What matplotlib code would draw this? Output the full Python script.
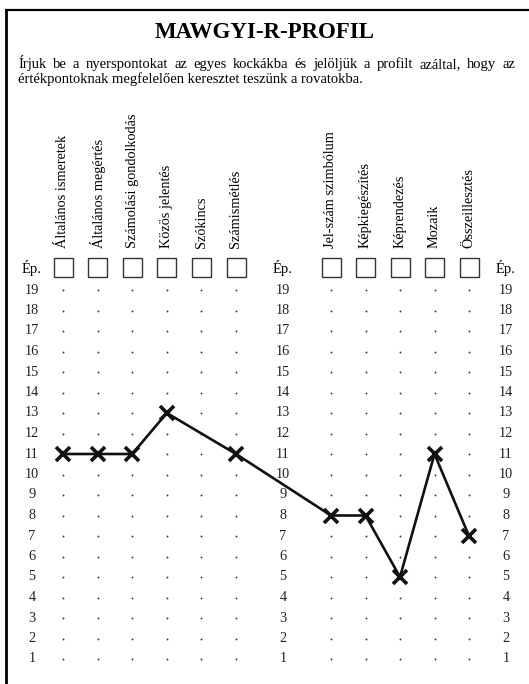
import numpy as np
import matplotlib
matplotlib.use('Agg')
import matplotlib.pyplot as plt
from matplotlib.patches import Rectangle

plt.rcParams['font.family'] = ['Liberation Serif', 'DejaVu Serif']

# Adatok
title = 'MAWGYI-R-PROFIL'
line1 = 'Írjuk be a nyerspontokat az egyes kockákba és jelöljük a profilt azáltal, hogy az'
line2 = 'értékpontoknak megfelelően keresztet teszünk a rovatokba.'
subtests_left = ['Általános ismeretek', 'Általános megértés', 'Számolási gondolkodás',
                 'Közös jelentés', 'Szókincs', 'Számismétlés']
subtests_right = ['Jel-szám szimbólum', 'Képkiegészítés', 'Képrendezés',
                  'Mozaik', 'Összeillesztés']
scores_left = [11, 11, 11, 13, np.nan, 11]
scores_right = [8, 8, 5, 11, 7]
levels = list(range(1, 20))
ep_label = 'Ép.'

# Elrendezés (pixel)
W, H = 529, 684
x_left = 63 + 34.6 * np.arange(len(subtests_left))
x_right = 331 + 34.5 * np.arange(len(subtests_right))
x_nums = [32, 283, 506]
row_top, row_step = 290, 20.5

fig = plt.figure(figsize=(W / 100, H / 100), dpi=100)

# pixel tengely a fejléchez
axp = fig.add_axes([0, 0, 1, 1])
axp.set_xlim(0, W)
axp.set_ylim(H, 0)
axp.axis('off')

# adat tengely: x pixel, y pontszám
ax = fig.add_axes([0, 0, 1, 1])
ax.set_xlim(0, W)
ax.set_ylim(19 - (H - row_top) / row_step, 19 + row_top / row_step)
ax.axis('off')
ax.patch.set_alpha(0)

# keret
axp.plot([5, W], [10, 10], color='black', lw=1.6, solid_capstyle='butt')
axp.plot([6, 6], [10, H], color='black', lw=2.0, solid_capstyle='butt')

# cím
axp.text(W / 2, 33, title, ha='center', va='center', fontsize=16.5, fontweight='bold')

# utasítás, sorkizárt első sor
renderer = fig.canvas.get_renderer()
words = line1.split(' ')
widths = []
for w in words:
    t = axp.text(0, 0, w, fontsize=10.5)
    bb = t.get_window_extent(renderer)
    widths.append(bb.width)
    t.remove()
x0, x1 = 18, 515
gap = (x1 - x0 - sum(widths)) / (len(words) - 1)
xx = x0
for w, wd in zip(words, widths):
    axp.text(xx, 68, w, fontsize=10.5, ha='left', va='baseline')
    xx += wd + gap
axp.text(x0, 83, line2, fontsize=10.5, ha='left', va='baseline')

# oszlopfeliratok és négyzetek
for xs, names in [(x_left, subtests_left), (x_right, subtests_right)]:
    for x, name in zip(xs, names):
        axp.text(x, 248, name, rotation=90, ha='center', va='bottom', fontsize=10.3)
        axp.add_patch(Rectangle((x - 9.5, 257.5), 19, 19, fill=False,
                                edgecolor='#333333', lw=1.0))
for x in x_nums:
    axp.text(x, 268, ep_label, ha='center', va='center', fontsize=10.5)

# számok
for x in x_nums:
    for lv in levels:
        ax.text(x, lv, str(lv), ha='center', va='center', fontsize=10.3, color='#222222')

# pontok
xs_all = np.concatenate([x_left, x_right])
gx, gy = np.meshgrid(xs_all, levels)
ax.scatter(gx.ravel(), gy.ravel(), s=1.8, color='#333333', linewidths=0)

# profil
px = np.concatenate([x_left, x_right])
py = np.array(scores_left + scores_right, dtype=float)
ok = ~np.isnan(py)
ax.plot(px[ok], py[ok], color='#111111', lw=1.9, zorder=3)
ax.plot(px[ok], py[ok], 'x', color='#111111', ms=9.5, mew=2.6, zorder=4)

fig.savefig('out.png', dpi=100)
